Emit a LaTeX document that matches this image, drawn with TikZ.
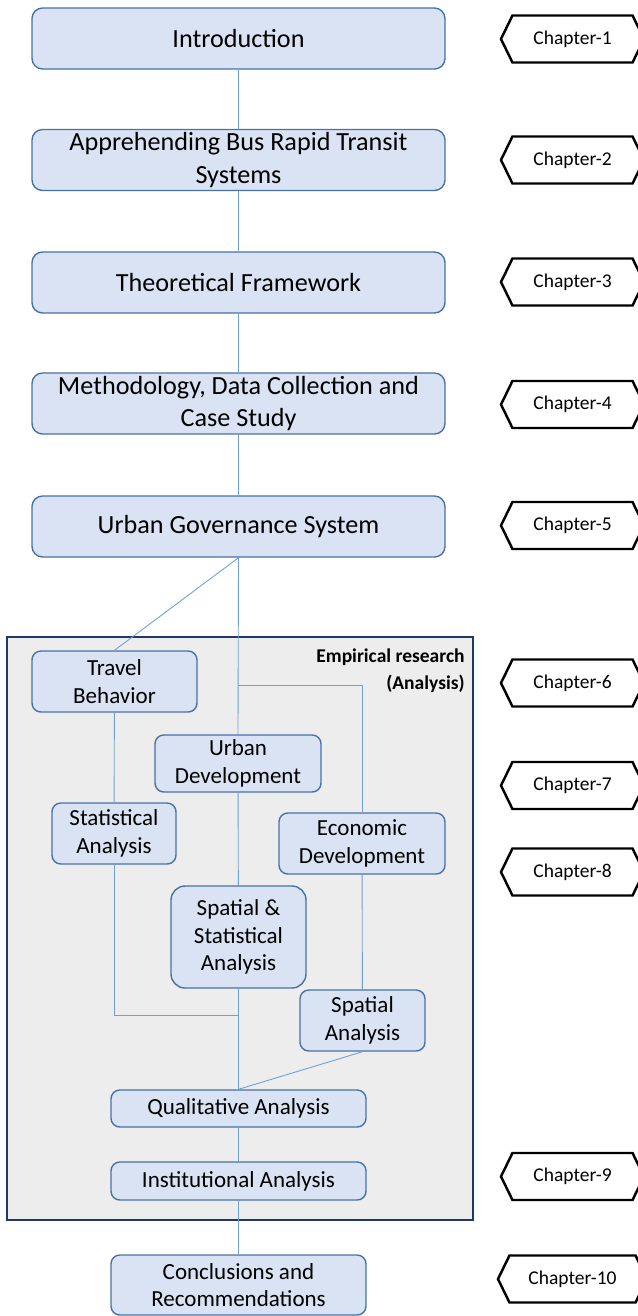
\documentclass[tikz,border=0pt]{standalone}
\usepackage{fontspec}
\setmainfont{Carlito}
\definecolor{boxfill}{RGB}{218, 227, 243}
\definecolor{boxedge}{RGB}{72, 114, 165}
\definecolor{linkblue}{RGB}{110, 160, 215}
\definecolor{framenavy}{RGB}{32, 56, 100}
\definecolor{framegray}{RGB}{237, 237, 237}
\usetikzlibrary{shapes.symbols, positioning, calc}

\begin{document}
\begin{tikzpicture}[
  x=0.02cm, y=-0.02cm,
  mainbox/.style={draw=boxedge, line width=0.8pt, fill=boxfill, rounded corners=6pt, minimum width=413*0.02cm, minimum height=61*0.02cm, align=center, inner sep=0pt, font=\fontsize{14.9}{18.3}\selectfont},
  subbox/.style={draw=boxedge, line width=0.8pt, fill=boxfill, rounded corners=5pt, align=center, inner sep=0pt, font=\fontsize{13.1}{15.8}\selectfont},
  chapbox/.style={draw=black, line width=1.4pt, fill=white, signal, signal to=west and east, signal pointer angle=128, minimum width=143*0.02cm, minimum height=47*0.02cm, inner sep=0pt, font=\fontsize{11.1}{13}\selectfont},
  link/.style={draw=linkblue, line width=0.5pt}
]
  \useasboundingbox (0,0) rectangle (638,1316);
  \clip (0,0) rectangle (638,1316);

  % main chain
  \node[mainbox] (intro) at (238.5, 38.5) {Introduction};
  \node[mainbox] (brt) at (238.5, 160) {Apprehending Bus Rapid Transit\\Systems};
  \node[mainbox] (theory) at (238.5, 282.5) {Theoretical Framework};
  \node[mainbox] (method) at (238.5, 403.5) {Methodology, Data Collection and\\Case Study};
  \node[mainbox] (gov) at (238.5, 526.5) {Urban Governance System};

  % empirical part
  \node[draw=framenavy, line width=1.1pt, fill=framegray, minimum width=466*0.02cm, minimum height=583*0.02cm, inner sep=0pt] (empir) at (240, 928.5) {};
  \node[anchor=north east, align=right, inner sep=0pt, font=\fontsize{11.1}{15.4}\selectfont\bfseries] (emptitle) at (465, 648) {Empirical research\\(Analysis)};

  \node[subbox, minimum width=165*0.02cm, minimum height=61*0.02cm] (travel) at (114.5, 681.5) {Travel\\Behavior};
  \node[subbox, minimum width=166*0.02cm, minimum height=57*0.02cm] (urban) at (238, 763.5) {Urban\\Development};
  \node[subbox, minimum width=124*0.02cm, minimum height=61*0.02cm] (stat) at (114, 833.5) {Statistical\\Analysis};
  \node[subbox, minimum width=166*0.02cm, minimum height=61*0.02cm] (econ) at (362, 843.5) {Economic\\Development};
  \node[subbox, minimum width=135*0.02cm, minimum height=102*0.02cm, rounded corners=8pt] (spastat) at (238.5, 937) {Spatial \&\\Statistical\\Analysis};
  \node[subbox, minimum width=125*0.02cm, minimum height=61*0.02cm] (spatial) at (362.5, 1020.5) {Spatial\\Analysis};
  \node[subbox, minimum width=255*0.02cm, minimum height=37*0.02cm] (qual) at (238.5, 1108.5) {Qualitative Analysis};
  \node[subbox, minimum width=255*0.02cm, minimum height=38*0.02cm] (inst) at (238.5, 1181) {Institutional Analysis};

  \node[subbox, minimum width=255*0.02cm, minimum height=60*0.02cm] (concl) at (238.5, 1285) {Conclusions and\\Recommendations};

  % chapters
  \node[chapbox] (ch1) at (572.5, 39) {Chapter-1};
  \node[chapbox] (ch2) at (572.5, 160) {Chapter-2};
  \node[chapbox] (ch3) at (572.5, 282) {Chapter-3};
  \node[chapbox] (ch4) at (572.5, 404.5) {Chapter-4};
  \node[chapbox] (ch5) at (572.5, 525.5) {Chapter-5};
  \node[chapbox] (ch6) at (572.5, 683) {Chapter-6};
  \node[chapbox] (ch7) at (572.5, 785.5) {Chapter-7};
  \node[chapbox] (ch8) at (572.5, 872) {Chapter-8};
  \node[chapbox] (ch9) at (572.5, 1176.5) {Chapter-9};
  \node[chapbox, minimum width=149*0.02cm] (ch10) at (572.5, 1279) {Chapter-10};

  % connectors
  \coordinate (split) at (238, 685);
  \coordinate (merge) at (238, 1015);
  \draw[link] (intro) -- (brt);
  \draw[link] (brt) -- (theory);
  \draw[link] (theory) -- (method);
  \draw[link] (method) -- (gov);
  \draw[link] (gov.south) -- (travel.north);
  \draw[link] (gov.south) -- (urban.north);
  \draw[link] (split) -| (econ.north);
  \draw[link] (travel) -- (stat);
  \draw[link] (urban) -- (spastat);
  \draw[link] (econ) -- (spatial);
  \draw[link] (stat.south) |- (merge);
  \draw[link] (spastat.south) -- (qual.north);
  \draw[link] (spatial.south) -- (qual.north);
  \draw[link] (qual) -- (inst);
  \draw[link] (inst) -- (concl);
\end{tikzpicture}
\end{document}
